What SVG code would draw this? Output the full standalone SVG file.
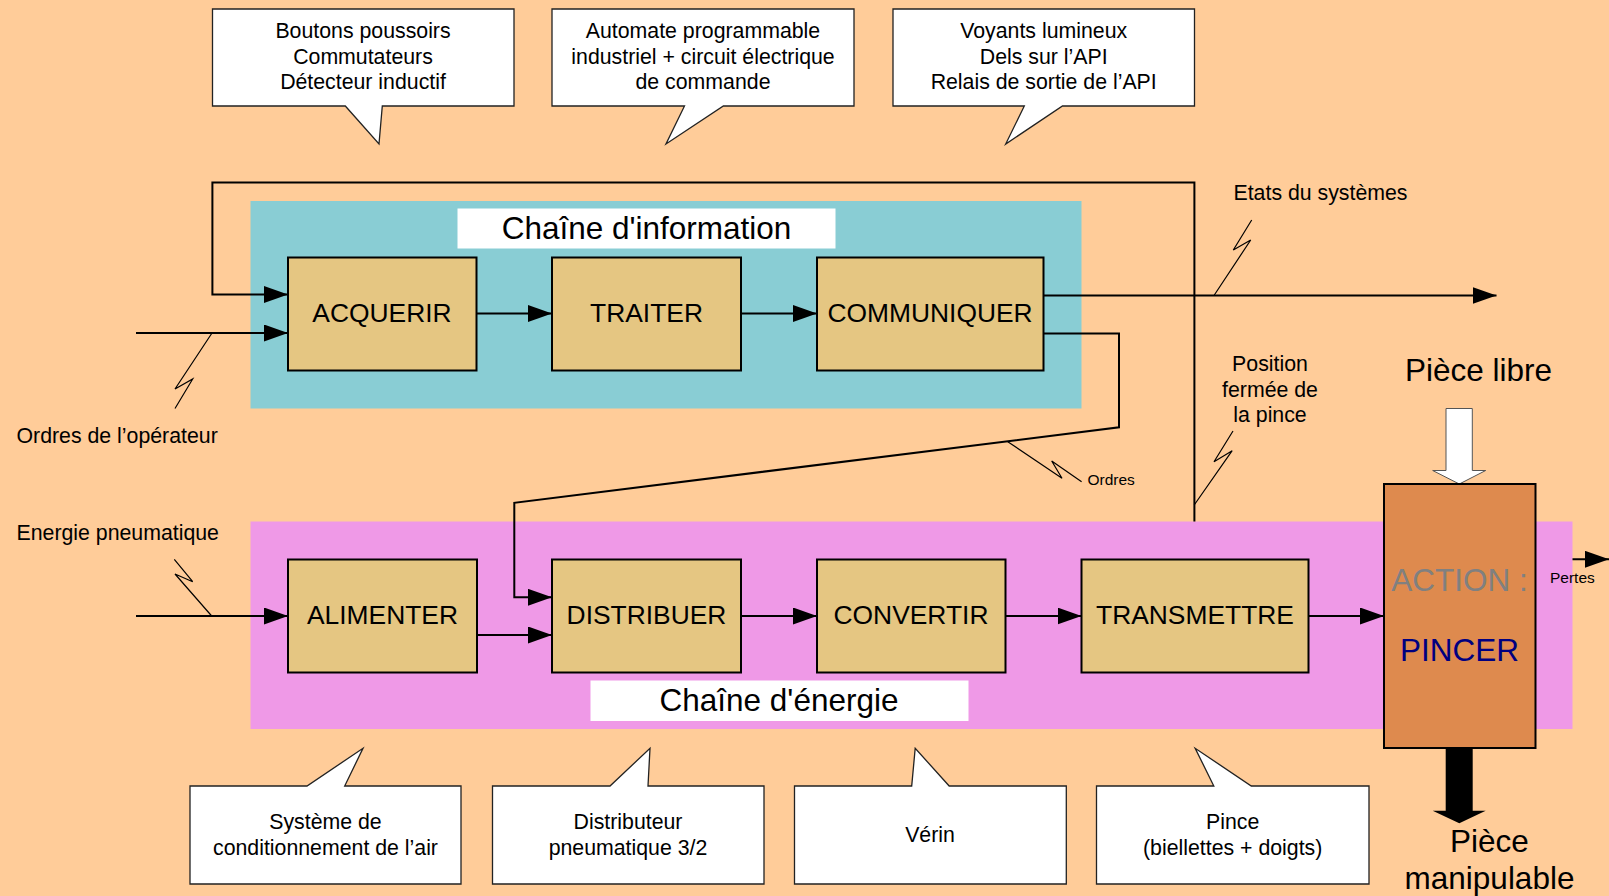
<svg xmlns="http://www.w3.org/2000/svg" width="1609" height="896" viewBox="0 0 1609 896">
<defs>
  <marker id="arr" markerUnits="userSpaceOnUse" markerWidth="26" markerHeight="18" refX="24" refY="8.5" orient="auto">
    <path d="M0,0 L24,8.5 L0,17 Z" fill="#000"/>
  </marker>
</defs>
<style>
  .t{font-family:"Liberation Sans",Arial,sans-serif;fill:#000}
  .lbl{font-size:21.3px}
  .blk{font-size:26.4px}
  .big{font-size:31.5px}
  .sm{font-size:15.5px}
  .mid{text-anchor:middle}
  .box{fill:#E5C682;stroke:#000;stroke-width:2}
  .wire{fill:none;stroke:#000;stroke-width:2}
  .zz{fill:none;stroke:#000;stroke-width:1.2}
  .bub{fill:#fff;stroke:#222;stroke-width:1.3}
</style>

<!-- background -->
<rect x="0" y="0" width="1609" height="896" fill="#FFCC99"/>

<!-- chain panels -->
<g id="chaine-information">
  <rect x="250.5" y="201" width="831" height="207.5" fill="#89CDD4"/>
  <rect x="457.5" y="208.5" width="378" height="40" fill="#fff"/>
  <text class="t big mid" x="646.5" y="238.5">Chaîne d'information</text>
</g>
<g id="chaine-energie">
  <rect x="250.5" y="521.5" width="1322" height="207.5" fill="#EF99E7"/>
  <rect x="590.5" y="680.5" width="378" height="40.5" fill="#fff"/>
  <text class="t big mid" x="779" y="710.5">Chaîne d'énergie</text>
</g>

<!-- connectors -->
<g id="connectors">
  <!-- operator orders -->
  <line class="wire" x1="136" y1="333" x2="288" y2="333" marker-end="url(#arr)"/>
  <polyline class="zz" points="212,333 175,389 192.7,379 175,408.5"/>
  <!-- feedback loop from the gripper -->
  <polyline class="wire" points="1194.4,521.5 1194.4,182.6 212.4,182.6 212.4,294.5 288,294.5" marker-end="url(#arr)"/>
  <!-- information chain -->
  <line class="wire" x1="476.5" y1="313.5" x2="552" y2="313.5" marker-end="url(#arr)"/>
  <line class="wire" x1="741" y1="313.5" x2="817" y2="313.5" marker-end="url(#arr)"/>
  <!-- system states -->
  <line class="wire" x1="1043.5" y1="295.5" x2="1496.5" y2="295.5" marker-end="url(#arr)"/>
  <polyline class="zz" points="1214,295.5 1250.7,240 1233.3,250 1251.7,220"/>
  <!-- orders to the distributor -->
  <polyline class="wire" points="1043.5,333.5 1119,333.5 1119,427.3 514.3,502.8 514.3,597.3 552,597.3" marker-end="url(#arr)"/>
  <polyline class="zz" points="1007.8,441.7 1062,478.3 1051.7,461 1081.6,481.7"/>
  <!-- closed-position sensor -->
  <polyline class="zz" points="1194.2,505 1232.2,450.7 1214,461.7 1233,431"/>
  <!-- pneumatic energy -->
  <line class="wire" x1="136" y1="616" x2="288" y2="616" marker-end="url(#arr)"/>
  <polyline class="zz" points="211.7,616 175,574 192.7,581.7 174.3,559.3"/>
  <!-- energy chain -->
  <line class="wire" x1="477" y1="635" x2="552" y2="635" marker-end="url(#arr)"/>
  <line class="wire" x1="741" y1="616" x2="817" y2="616" marker-end="url(#arr)"/>
  <line class="wire" x1="1005.5" y1="616" x2="1081.5" y2="616" marker-end="url(#arr)"/>
  <line class="wire" x1="1308.5" y1="616" x2="1384" y2="616" marker-end="url(#arr)"/>
  <!-- losses -->
  <line class="wire" x1="1572.5" y1="559.3" x2="1609" y2="559.3" marker-end="url(#arr)"/>
  <!-- free part in -->
  <path d="M1446,408.5 H1472.3 V470.5 H1485.7 L1459.3,484 L1432.7,470.5 H1446 Z" fill="#fff" stroke="#555" stroke-width="1"/>
  <!-- handled part out -->
  <path d="M1445.7,748 H1472.7 V810.7 H1485.7 L1459.3,823.3 L1432.7,810.7 H1445.7 Z" fill="#000"/>
</g>

<!-- information chain functions -->
<g id="acquerir">
  <rect class="box" x="288" y="257.5" width="188.5" height="113"/>
  <text class="t blk mid" x="382" y="322">ACQUERIR</text>
</g>
<g id="traiter">
  <rect class="box" x="552" y="257.5" width="189" height="113"/>
  <text class="t blk mid" x="646.5" y="322">TRAITER</text>
</g>
<g id="communiquer">
  <rect class="box" x="817" y="257.5" width="226.5" height="113"/>
  <text class="t blk mid" x="930" y="322">COMMUNIQUER</text>
</g>

<!-- energy chain functions -->
<g id="alimenter">
  <rect class="box" x="288" y="559.5" width="189" height="113"/>
  <text class="t blk mid" x="382.5" y="623.5">ALIMENTER</text>
</g>
<g id="distribuer">
  <rect class="box" x="552" y="559.5" width="189" height="113"/>
  <text class="t blk mid" x="646.5" y="623.5">DISTRIBUER</text>
</g>
<g id="convertir">
  <rect class="box" x="817" y="559.5" width="188.5" height="113"/>
  <text class="t blk mid" x="911" y="623.5">CONVERTIR</text>
</g>
<g id="transmettre">
  <rect class="box" x="1081.5" y="559.5" width="227" height="113"/>
  <text class="t blk mid" x="1195" y="623.5">TRANSMETTRE</text>
</g>

<!-- action on the workpiece -->
<g id="action">
  <rect x="1384" y="484" width="151.5" height="264" fill="#DE8A4E" stroke="#000" stroke-width="2"/>
  <text class="t big mid" x="1459.5" y="590.5" style="fill:#808080">ACTION :</text>
  <text class="t big mid" x="1459.5" y="660.5" style="fill:#000080">PINCER</text>
</g>

<!-- flow labels -->
<g id="labels">
  <text class="t lbl" x="16.5" y="442.5">Ordres de l’opérateur</text>
  <text class="t lbl" x="16.5" y="540">Energie pneumatique</text>
  <text class="t lbl" x="1233.5" y="200">Etats du systèmes</text>
  <text class="t sm" x="1087.5" y="484.5">Ordres</text>
  <text class="t lbl mid" x="1270" y="371">Position</text>
  <text class="t lbl mid" x="1270" y="396.5">fermée de</text>
  <text class="t lbl mid" x="1270" y="422">la pince</text>
  <text class="t big mid" x="1478.5" y="381">Pièce libre</text>
  <text class="t sm" x="1550" y="582.5">Pertes</text>
  <text class="t big mid" x="1489.5" y="852">Pièce</text>
  <text class="t big mid" x="1489.5" y="889">manipulable</text>
</g>

<!-- component callouts, information chain -->
<g id="bulle-acquerir">
  <path class="bub" d="M212.5,9 H514 V106 H382.3 L379,144 L345.3,106 H212.5 Z"/>
  <text class="t lbl mid" x="363" y="38">Boutons poussoirs</text>
  <text class="t lbl mid" x="363" y="63.5">Commutateurs</text>
  <text class="t lbl mid" x="363" y="89">Détecteur inductif</text>
</g>
<g id="bulle-traiter">
  <path class="bub" d="M552,9 H854 V106 H723.4 L666,144 L684.5,106 H552 Z"/>
  <text class="t lbl mid" x="703" y="38">Automate programmable</text>
  <text class="t lbl mid" x="703" y="63.5">industriel + circuit électrique</text>
  <text class="t lbl mid" x="703" y="89">de commande</text>
</g>
<g id="bulle-communiquer">
  <path class="bub" d="M893,9 H1194.5 V106 H1062.5 L1005.7,144 L1024.3,106 H893 Z"/>
  <text class="t lbl mid" x="1043.7" y="38">Voyants lumineux</text>
  <text class="t lbl mid" x="1043.7" y="63.5">Dels sur l’API</text>
  <text class="t lbl mid" x="1043.7" y="89">Relais de sortie de l’API</text>
</g>

<!-- component callouts, energy chain -->
<g id="bulle-alimenter">
  <path class="bub" d="M190,786 H307 L363,748.3 L344.7,786 H461 V884 H190 Z"/>
  <text class="t lbl mid" x="325.5" y="829">Système de</text>
  <text class="t lbl mid" x="325.5" y="855">conditionnement de l’air</text>
</g>
<g id="bulle-distribuer">
  <path class="bub" d="M492.5,786 H610 L650,748.3 L648,786 H764 V884 H492.5 Z"/>
  <text class="t lbl mid" x="628" y="829">Distributeur</text>
  <text class="t lbl mid" x="628" y="855">pneumatique 3/2</text>
</g>
<g id="bulle-convertir">
  <path class="bub" d="M794.5,786 H911.7 L915.2,748.3 L949.2,786 H1066.3 V884 H794.5 Z"/>
  <text class="t lbl mid" x="930" y="842">Vérin</text>
</g>
<g id="bulle-transmettre">
  <path class="bub" d="M1096.5,786 H1213.8 L1195.2,748.3 L1251.3,786 H1369 V884 H1096.5 Z"/>
  <text class="t lbl mid" x="1232.7" y="829">Pince</text>
  <text class="t lbl mid" x="1232.7" y="855">(biellettes + doigts)</text>
</g>
</svg>
